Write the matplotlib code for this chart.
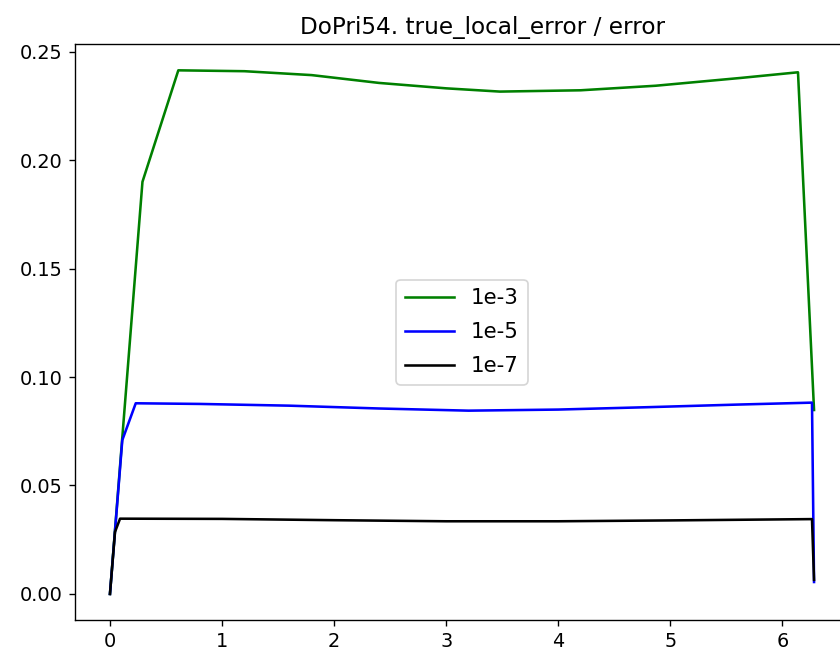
import numpy as np
import matplotlib
matplotlib.use("Agg")
import matplotlib.pyplot as plt

# step ends (t) and ratio true_local_error / error for each tolerance
t_1e3 = [0.0, 0.29, 0.61, 1.2, 1.8, 2.4, 3.0, 3.48, 4.2, 4.87, 5.63, 6.14, 2 * np.pi]
r_1e3 = [0.0, 0.190, 0.2414, 0.2410, 0.2392, 0.2356, 0.2331, 0.2316, 0.2322, 0.2343, 0.2379, 0.2405, 0.0848]

t_1e5 = [0.0, 0.11, 0.23, 0.8, 1.6, 2.4, 3.2, 4.0, 4.8, 5.6, 6.265, 2 * np.pi]
r_1e5 = [0.0, 0.0709, 0.0879, 0.0876, 0.0868, 0.0855, 0.0845, 0.0850, 0.0861, 0.0873, 0.0882, 0.0055]

t_1e7 = [0.0, 0.045, 0.09, 1.0, 2.0, 3.0, 4.0, 5.0, 6.265, 2 * np.pi]
r_1e7 = [0.0, 0.0286, 0.0347, 0.0346, 0.0340, 0.0335, 0.0335, 0.0339, 0.0345, 0.0065]

dpi = 123
plt.rcParams.update({'font.size': 11.3})
f = plt.figure(figsize=(840 / dpi, 659 / dpi), dpi=dpi)
ax = f.add_axes([0.089, 0.059, 0.922, 0.874])

ax.plot(t_1e3, r_1e3, color="green", label="1e-3")
ax.plot(t_1e5, r_1e5, color="blue", label="1e-5")
ax.plot(t_1e7, r_1e7, color="black", label="1e-7")

ax.set_title("DoPri54. true_local_error / error", x=0.526)
ax.legend(loc="center", fontsize=12.5, handlelength=2.3, labelspacing=0.65)

f.savefig("out.png", dpi=dpi)
